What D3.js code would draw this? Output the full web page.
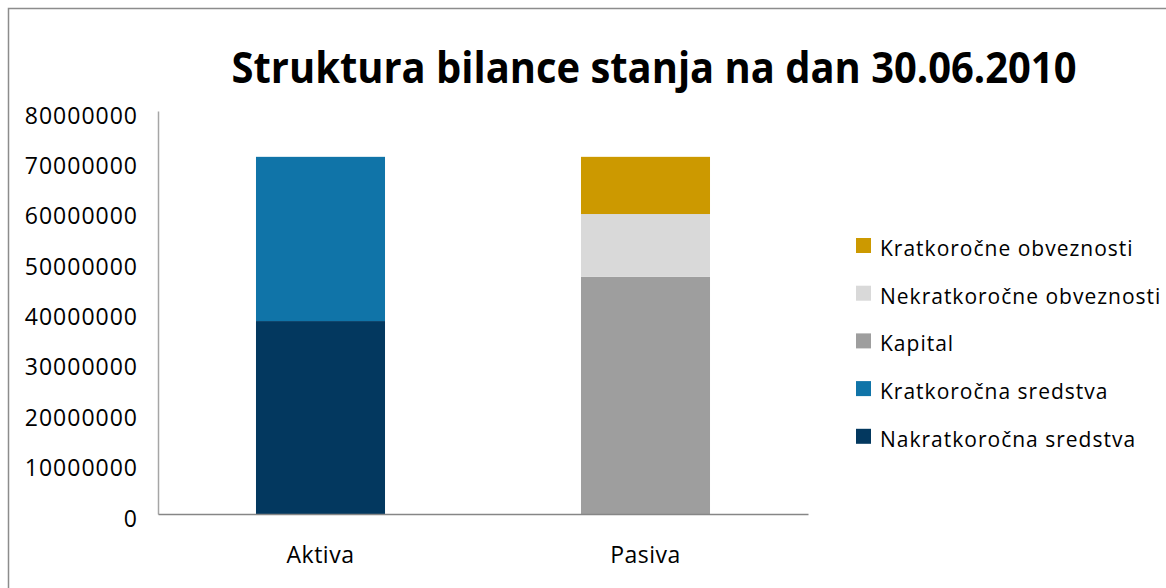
<!DOCTYPE html>
<html>
<head>
<meta charset="utf-8">
<script src="https://cdnjs.cloudflare.com/ajax/libs/d3/7.8.5/d3.min.js"></script>
<style>
  body { margin: 0; background: #fff; }
  text { font-family: "Open Sans", sans-serif; fill: #000; }
</style>
</head>
<body>
<svg id="chart"></svg>
<script>

var categories = ["Aktiva", "Pasiva"];
var seriesNames = ["Nakratkoročna sredstva", "Kratkoročna sredstva", "Kapital", "Nekratkoročne obveznosti", "Kratkoročne obveznosti"];
var seriesColors = ["#03385f", "#1074a8", "#9e9e9e", "#d9d9d9", "#cc9900"];
// values per series, one entry per category (Aktiva, Pasiva)
var nakratkorocnaSredstva = [38300000, 0];
var kratkorocnaSredstva = [32600000, 0];
var kapital = [0, 47100000];
var nekratkorocneObveznosti = [0, 12450000];
var kratkorocneObveznosti = [0, 11350000];
var yTicks = [0, 10000000, 20000000, 30000000, 40000000, 50000000, 60000000, 70000000, 80000000];
var legendOrder = ["Kratkoročne obveznosti", "Nekratkoročne obveznosti", "Kapital", "Kratkoročna sredstva", "Nakratkoročna sredstva"];

var width = 1166, height = 588;
var svg = d3.select("#chart")
    .attr("width", width)
    .attr("height", height);

// outer chart frame
svg.append("rect")
    .attr("x", 8.5)
    .attr("y", 8.5)
    .attr("width", width + 20)
    .attr("height", height + 20)
    .style("fill", "none")
    .style("stroke", "#8c8c8c")
    .style("stroke-width", 1.5);

var plot = { left: 158, right: 808, top: 111, bottom: 514 };

var x = d3.scaleBand()
    .domain(categories)
    .range([plot.left, plot.right])
    .paddingInner(0.603)
    .paddingOuter(0.3015);

var y = d3.scaleLinear()
    .domain([0, 80000000])
    .range([plot.bottom, plot.top]);

var allSeries = [nakratkorocnaSredstva, kratkorocnaSredstva, kapital, nekratkorocneObveznosti, kratkorocneObveznosti];
var table = categories.map(function(c, i) {
    var row = { category: c };
    seriesNames.forEach(function(s, j) { row[s] = allSeries[j][i]; });
    return row;
});

var stacked = d3.stack().keys(seriesNames)(table);

// bars
svg.append("g").selectAll("g")
    .data(stacked)
    .enter().append("g")
    .style("fill", function(d, i) { return seriesColors[i]; })
    .selectAll("rect")
    .data(function(d) { return d; })
    .enter().append("rect")
    .attr("x", function(d) { return x(d.data.category); })
    .attr("y", function(d) { return y(d[1]); })
    .attr("height", function(d) { return y(d[0]) - y(d[1]); })
    .attr("width", x.bandwidth());

// y axis
var yAxis = svg.append("g")
    .attr("transform", "translate(" + plot.left + ",0)")
    .call(d3.axisLeft(y).tickValues(yTicks).tickSize(0).tickPadding(20).tickFormat(d3.format("d")));
yAxis.select(".domain").style("stroke", "#a6a6a6").style("stroke-width", 1.5);
yAxis.selectAll("text")
    .attr("dy", "0.35em")
    .attr("transform", "translate(0,4)")
    .style("font-size", "23px")
    .style("letter-spacing", "1px")
    .style("font-family", "Open Sans, sans-serif")
    .style("fill", "#000");

// x axis
var xAxis = svg.append("g")
    .attr("transform", "translate(0," + plot.bottom + ")")
    .call(d3.axisBottom(x).tickSize(0).tickPadding(33));
xAxis.select(".domain").style("stroke", "#868686").style("stroke-width", 1.5);
xAxis.selectAll("text")
    .style("font-size", "23px")
    .style("letter-spacing", "0.5px")
    .style("font-family", "Open Sans, sans-serif")
    .style("fill", "#000");

// title
svg.append("text")
    .attr("x", 654)
    .attr("y", 83)
    .attr("text-anchor", "middle")
    .attr("textLength", 845)
    .attr("lengthAdjust", "spacingAndGlyphs")
    .style("font-size", "43px")
    .style("font-weight", "bold")
    .text("Struktura bilance stanja na dan 30.06.2010");

// legend
var legend = svg.append("g")
    .selectAll("g")
    .data(legendOrder)
    .enter().append("g")
    .attr("transform", function(d, i) { return "translate(856," + (238 + i * 47.7) + ")"; });

legend.append("rect")
    .attr("width", 15)
    .attr("height", 15)
    .style("fill", function(d) { return seriesColors[seriesNames.indexOf(d)]; });

legend.append("text")
    .attr("x", 24)
    .attr("y", 18)
    .style("font-size", "21px")
    .style("letter-spacing", "1px")
    .text(function(d) { return d; });
</script>
</body>
</html>
